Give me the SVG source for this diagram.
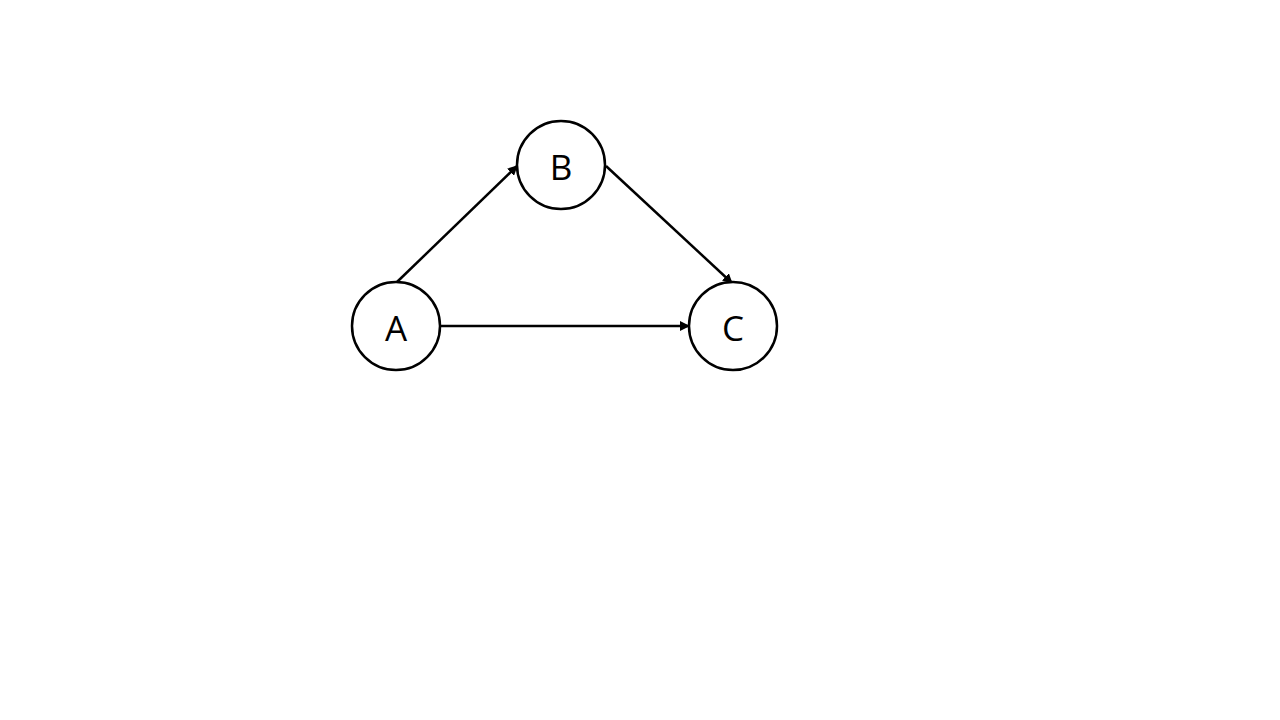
<svg xmlns="http://www.w3.org/2000/svg" width="1280" height="720" viewBox="0 0 1280 720">
<style>
.node circle{fill:#fff;stroke:#000;stroke-width:2.5}
.node text{font-family:"Open Sans","Liberation Sans",sans-serif;font-size:35px;fill:#000;text-anchor:middle;dominant-baseline:central}
.edge{stroke:#000;stroke-width:2.5;fill:none;marker-end:url(#arr)}
</style>
<defs>
<marker id="arr" viewBox="0 0 10 10" refX="9" refY="5" markerWidth="4" markerHeight="4" orient="auto" markerUnits="strokeWidth">
<path d="M0,0 L10,5 L0,10 z" fill="#000"/>
</marker>
</defs>
<rect width="1280" height="720" fill="#fff"/>
<g id="connectors">
<line class="edge" x1="397" y1="282" x2="517" y2="166"/>
<line class="edge" x1="606" y1="166" x2="732" y2="283"/>
<line class="edge" x1="441" y1="326" x2="689" y2="326"/>
</g>
<g id="node-A" class="node"><circle cx="396" cy="326" r="44"/><text x="396" y="327">A</text></g>
<g id="node-B" class="node"><circle cx="561" cy="165" r="44"/><text x="561" y="166">B</text></g>
<g id="node-C" class="node"><circle cx="733" cy="326" r="44"/><text x="733" y="327">C</text></g>
</svg>
